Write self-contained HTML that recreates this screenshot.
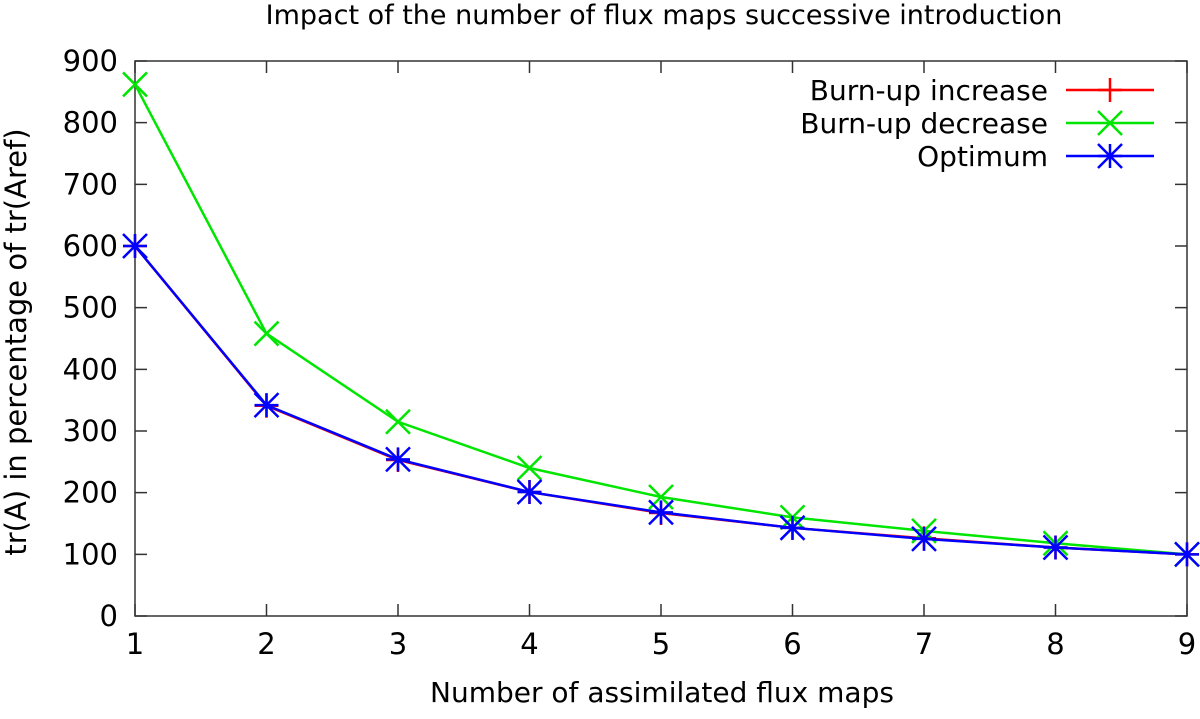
<!DOCTYPE html>
<html><head><meta charset="utf-8"><style>
body{margin:0;background:#fff}
svg text{font-family:"DejaVu Sans","Liberation Sans",sans-serif;fill:#000}
</style></head><body>
<svg id="chart" width="1200" height="714" xmlns="http://www.w3.org/2000/svg">
<text x="664" y="24" font-size="27" text-anchor="middle">Impact of the number of flux maps successive introduction</text>
<text x="662" y="702" font-size="28" text-anchor="middle">Number of assimilated flux maps</text>
<text transform="translate(26,342) rotate(-90)" font-size="29" text-anchor="middle">tr(A) in percentage of tr(Aref)</text>
<g id="axes"></g>
<g id="series"></g>
<g id="legend"></g>
</svg>
<script>
const xCats=[1,2,3,4,5,6,7,8,9];
const yTicks=[0,100,200,300,400,500,600,700,800,900];
const incVals=[600,341,253,201,167,143,126,111,100];
const decVals=[862,458,315,240,193,160,138,118,100];
const optVals=[600,342,254,201,168,143,125,111,100];
const L=135,R=1187,T=61,B=616;
const xs=v=>L+(v-1)/(9-1)*(R-L);
const ys=v=>B-v/900*(B-T);
const NS="http://www.w3.org/2000/svg";
function mk(tag,attrs,parent){const e=document.createElementNS(NS,tag);for(const k in attrs)e.setAttribute(k,attrs[k]);parent.appendChild(e);return e;}
const axes=document.getElementById('axes');
const fr=mk('rect',{x:L,y:T,width:R-L,height:B-T,fill:'none',stroke:'#333','stroke-width':1.5},axes);


yTicks.forEach(v=>{
  const y=ys(v);
  const t=mk('path',{d:`M${L},${y}h12M${R},${y}h-12`,stroke:'#333','stroke-width':1.5},axes);
  
  
  const tx=mk('text',{x:L-17,y:y+10,'font-size':29,'text-anchor':'end'},axes);tx.textContent=v;
  
  
});
xCats.forEach(v=>{
  const x=xs(v);
  const t=mk('path',{d:`M${x},${B}v-12M${x},${T}v12`,stroke:'#333','stroke-width':1.5},axes);
  
  
  const tx=mk('text',{x:x,y:B+38,'font-size':29,'text-anchor':'middle'},axes);tx.textContent=v;
  
  
});
const s=12;
function marker(kind,x,y,c,p){
  let d='';
  if(kind==='plus')d=`M${x-s},${y}h${2*s}M${x},${y-s}v${2*s}`;
  else if(kind==='x')d=`M${x-s},${y-s}l${2*s},${2*s}M${x-s},${y+s}l${2*s},${-2*s}`;
  else d=`M${x-s},${y}h${2*s}M${x},${y-s}v${2*s}M${x-s},${y-s}l${2*s},${2*s}M${x-s},${y+s}l${2*s},${-2*s}`;
  const m=mk('path',{d,stroke:c,'stroke-width':2.5,fill:'none'},p);
  
  
}
const series=[
  {name:'Burn-up increase',vals:incVals,c:'#ff0000',k:'plus'},
  {name:'Burn-up decrease',vals:decVals,c:'#00e600',k:'x'},
  {name:'Optimum',vals:optVals,c:'#0000ff',k:'star'}];
const sg=document.getElementById('series'),lg=document.getElementById('legend');
series.forEach((se,i)=>{
  const g=mk('g',{},sg);
  
  
  const pl=mk('polyline',{points:se.vals.map((v,j)=>xs(xCats[j])+','+ys(v)).join(' '),fill:'none',stroke:se.c,'stroke-width':2.5},g);
  
  
  se.vals.forEach((v,j)=>marker(se.k,xs(xCats[j]),ys(v),se.c,g));
  const ly=90+i*33;
  const le=mk('g',{},lg);
  
  
  const t=mk('text',{x:1048,y:ly+10,'font-size':28,'text-anchor':'end'},le);t.textContent=se.name;
  mk('line',{x1:1066,x2:1154,y1:ly,y2:ly,stroke:se.c,'stroke-width':2.5},le);
  marker(se.k,1110,ly,se.c,le);
});
</script>
</body></html>
